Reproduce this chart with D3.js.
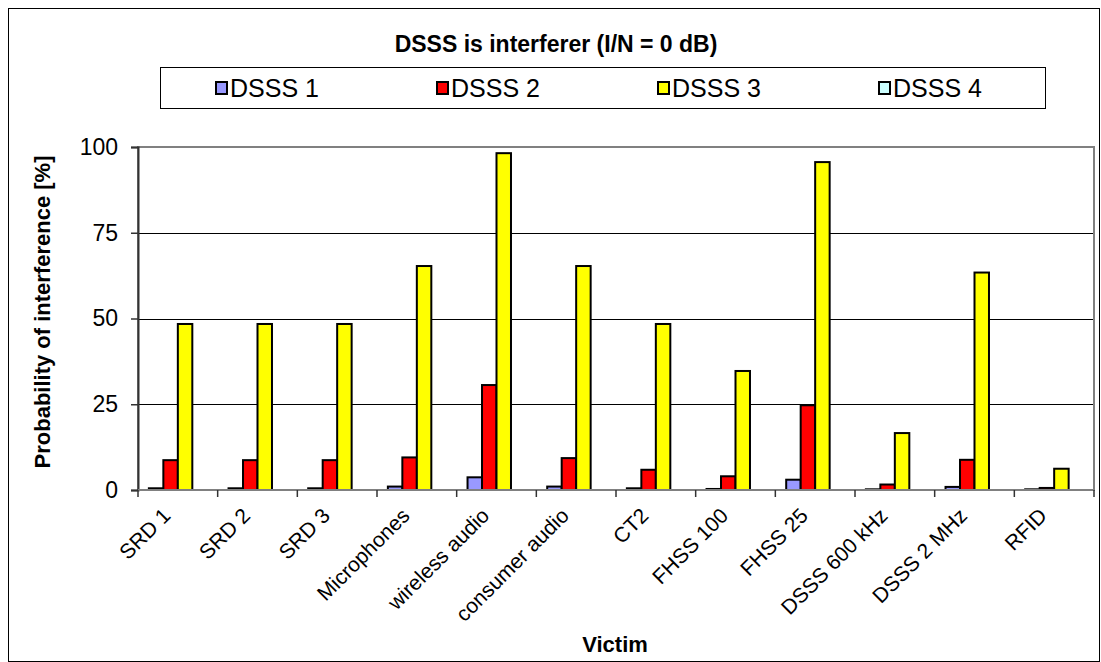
<!DOCTYPE html>
<meta charset="utf-8">
<style>
body { margin: 0; background: white; font-family: Arial, "Liberation Sans", sans-serif; }
svg { display: block; }
</style>
<body>
<script src="https://d3js.org/d3.v7.min.js"></script>
<script>
// victims on the x axis
var victims = ["SRD 1", "SRD 2", "SRD 3", "Microphones", "wireless audio", "consumer audio",
               "CT2", "FHSS 100", "FHSS 25", "DSSS 600 kHz", "DSSS 2 MHz", "RFID"];
var seriesNames = ["DSSS 1", "DSSS 2", "DSSS 3", "DSSS 4"];
var seriesColors = ["#9999FF", "#FF0000", "#FFFF00", "#CCFFFF"];

// probability of interference [%]
var dsss1 = [0.5, 0.5, 0.5, 1.0, 3.7, 1.0, 0.5, 0.3, 3.0, 0.2, 0.9, 0.2];
var dsss2 = [8.7, 8.7, 8.7, 9.5, 30.6, 9.3, 5.9, 4.0, 24.7, 1.6, 8.8, 0.6];
var dsss3 = [48.4, 48.4, 48.4, 65.3, 98.2, 65.3, 48.4, 34.7, 95.6, 16.6, 63.4, 6.2];
var dsss4 = [0, 0, 0, 0, 0, 0, 0, 0, 0, 0, 0, 0];
var yTicks = [0, 25, 50, 75, 100];

var allSeries = [dsss1, dsss2, dsss3, dsss4];

var W = 1101, H = 662;
var plot = {left: 138, right: 1094, top: 147, bottom: 490};
var font = "Arial, 'Liberation Sans', sans-serif";

var svg = d3.select("body").append("svg")
    .attr("width", W)
    .attr("height", H);

// outer chart frame
svg.append("rect")
    .attr("x", 8.5).attr("y", 8.5)
    .attr("width", W - 10).attr("height", H - 9)
    .attr("fill", "white").attr("stroke", "black").attr("stroke-width", 1);

var x = d3.scaleBand()
    .domain(victims)
    .range([plot.left, plot.right])
    .paddingInner(0).paddingOuter(0);

var y = d3.scaleLinear()
    .domain([0, 100])
    .range([plot.bottom, plot.top]);

var bw = x.bandwidth();
var barW = bw / 5.5;
var x1 = d3.scaleBand()
    .domain(seriesNames)
    .range([bw * 0.75 / 5.5, bw * 0.75 / 5.5 + barW * 4]);

// title
svg.append("text")
    .attr("x", 556).attr("y", 52)
    .attr("text-anchor", "middle")
    .style("font-size", "23px").style("font-weight", "bold")
    .text("DSSS is interferer (I/N = 0 dB)");

// legend
var legend = svg.append("g");
legend.append("rect")
    .attr("x", 160.5).attr("y", 67.5).attr("width", 885).attr("height", 41)
    .attr("fill", "white").attr("stroke", "black").attr("stroke-width", 1);
seriesNames.forEach(function(name, i) {
  var lx = 216 + i * 221;
  legend.append("rect")
      .attr("x", lx).attr("y", 82).attr("width", 11).attr("height", 12)
      .attr("fill", seriesColors[i]).attr("stroke", "black").attr("stroke-width", 2);
  legend.append("text")
      .attr("x", lx + 14).attr("y", 97)
      .style("font-size", "25px")
      .text(name);
});

// gridlines
svg.append("g").selectAll("line")
    .data(yTicks.slice(1))
    .enter().append("line")
    .attr("x1", plot.left).attr("x2", plot.right)
    .attr("y1", function(d) { return Math.round(y(d)) + 0.5; })
    .attr("y2", function(d) { return Math.round(y(d)) + 0.5; })
    .attr("stroke", "black").attr("stroke-width", 1);

// plot area border
svg.append("rect")
    .attr("x", plot.left).attr("y", plot.top)
    .attr("width", plot.right - plot.left).attr("height", plot.bottom - plot.top)
    .attr("fill", "none").attr("stroke", "#808080").attr("stroke-width", 2);

// bars
var groups = svg.append("g").selectAll("g")
    .data(victims)
    .enter().append("g")
    .attr("transform", function(d) { return "translate(" + x(d) + ",0)"; });

groups.selectAll("rect")
    .data(function(d, i) {
      return seriesNames.map(function(s, j) { return {s: s, v: allSeries[j][i], c: seriesColors[j]}; });
    })
    .enter().append("rect")
    .attr("x", function(d) { return x1(d.s); })
    .attr("width", x1.bandwidth())
    .attr("y", function(d) { return y(d.v); })
    .attr("height", function(d) { return y(0) - y(d.v); })
    .attr("fill", function(d) { return d.c; })
    .attr("stroke", "black").attr("stroke-width", 2);

// y axis
var yAxis = svg.append("g")
    .attr("transform", "translate(" + plot.left + ",0)")
    .call(d3.axisLeft(y).tickValues(yTicks).tickSize(7).tickPadding(13));
yAxis.select(".domain").attr("stroke", "#333").attr("stroke-width", 2);
yAxis.selectAll(".tick line").attr("stroke", "#333").attr("stroke-width", 1.5);
yAxis.selectAll("text")
    .style("font-size", "23px").style("font-family", font)
    .attr("fill", "black");

// x axis: ticks at category boundaries
var xAxisG = svg.append("g");
xAxisG.append("line")
    .attr("x1", plot.left).attr("x2", plot.right)
    .attr("y1", plot.bottom).attr("y2", plot.bottom)
    .attr("stroke", "#808080").attr("stroke-width", 2);
xAxisG.selectAll("line.tk")
    .data(victims.concat(["end"]))
    .enter().append("line")
    .attr("class", "tk")
    .attr("x1", function(d, i) { return plot.left + i * bw; })
    .attr("x2", function(d, i) { return plot.left + i * bw; })
    .attr("y1", plot.bottom).attr("y2", plot.bottom + 7)
    .attr("stroke", "#333").attr("stroke-width", 1.5);

xAxisG.selectAll("text")
    .data(victims)
    .enter().append("text")
    .attr("transform", function(d) {
      return "translate(" + (x(d) + bw / 2 - 6) + "," + (plot.bottom + 27) + ") rotate(-45)";
    })
    .attr("text-anchor", "end")
    .style("font-size", "21px")
    .text(function(d) { return d; });

// axis titles
svg.append("text")
    .attr("x", 615).attr("y", 652)
    .attr("text-anchor", "middle")
    .style("font-size", "22px").style("font-weight", "bold")
    .text("Victim");

svg.append("text")
    .attr("transform", "translate(50," + 312 + ") rotate(-90)")
    .attr("text-anchor", "middle")
    .style("font-size", "22px").style("font-weight", "bold")
    .text("Probability of interference [%]");
</script>
</body>
